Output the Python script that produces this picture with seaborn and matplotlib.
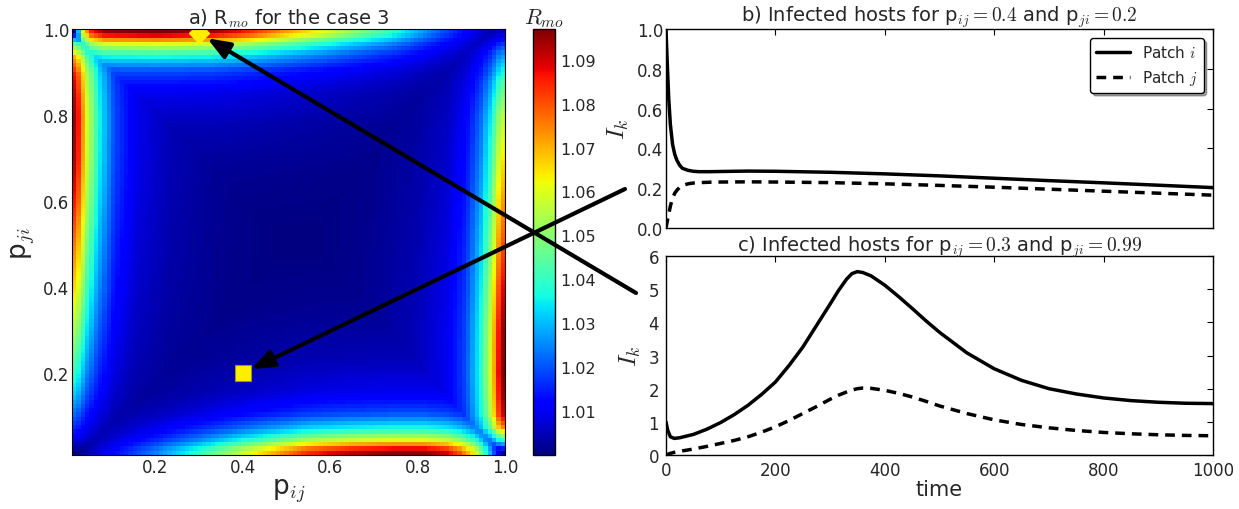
import numpy as np
import pandas as pd
import matplotlib
matplotlib.use('Agg')
import matplotlib.pyplot as plt
import seaborn as sns

# --- panel a: R_mo values read along the four edges of the map ---
# left edge (p_ij ~ 0.01), value vs p_ji
left_pji = [0.01, 0.05, 0.1, 0.15, 0.2, 0.3, 0.4, 0.5, 0.6, 0.7, 0.8, 0.85, 0.9, 0.94, 0.97, 0.99, 1.0]
left_peak = [1.0, 1.012, 1.022, 1.032, 1.04, 1.054, 1.066, 1.076, 1.086, 1.093, 1.095, 1.092, 1.086, 1.07, 1.045, 1.015, 1.0]
# right edge (p_ij ~ 1.0), value vs p_ji
right_pji = [0.01, 0.02, 0.04, 0.07, 0.1, 0.15, 0.2, 0.3, 0.4, 0.5, 0.6, 0.7, 0.8, 0.88, 0.95, 1.0]
right_peak = [1.0, 1.015, 1.04, 1.075, 1.09, 1.095, 1.097, 1.095, 1.088, 1.08, 1.072, 1.064, 1.056, 1.043, 1.025, 1.005]
# top edge (p_ji ~ 1.0), value vs p_ij
top_pij = [0.01, 0.02, 0.03, 0.05, 0.08, 0.2, 0.33, 0.41, 0.5, 0.59, 0.66, 0.74, 0.8, 0.86, 0.93, 1.0]
top_peak = [1.0, 1.03, 1.06, 1.085, 1.095, 1.097, 1.094, 1.085, 1.072, 1.06, 1.05, 1.04, 1.03, 1.02, 1.01, 1.0]
# bottom edge (p_ji ~ 0.01), value vs p_ij
bot_pij = [0.01, 0.1, 0.2, 0.3, 0.4, 0.47, 0.55, 0.65, 0.75, 0.82, 0.87, 0.9, 0.93, 0.95, 0.97, 0.99, 1.0]
bot_peak = [1.0, 1.012, 1.025, 1.04, 1.058, 1.07, 1.084, 1.092, 1.096, 1.096, 1.09, 1.08, 1.065, 1.05, 1.03, 1.01, 1.0]
# fall-off away from an edge (fraction of edge excess vs distance)
decay_d = [0, 0.01, 0.025, 0.05, 0.085, 0.13, 0.2, 0.3, 0.45]
decay_f = [1, 0.9, 0.65, 0.4, 0.2, 0.1, 0.05, 0.02, 0]
edge_width = {'left': 1.1, 'right': 1.0, 'top': 1.1, 'bottom': 1.1}

marker_diamond = (0.3, 0.99)
marker_square = (0.4, 0.2)

# --- panel b: p_ij = 0.4, p_ji = 0.2 ---
t_b = [0, 2, 5, 8, 12, 16, 20, 25, 30, 40, 50, 60, 80, 100, 150, 200, 300, 400, 500, 600, 700, 800, 900, 1000]
Ii_b = [1.0, 0.85, 0.65, 0.52, 0.42, 0.37, 0.34, 0.315, 0.30, 0.29, 0.285, 0.283, 0.283, 0.284, 0.286, 0.285,
        0.28, 0.272, 0.262, 0.25, 0.238, 0.227, 0.215, 0.203]
Ij_b = [0.0, 0.03, 0.07, 0.11, 0.15, 0.175, 0.19, 0.205, 0.213, 0.222, 0.226, 0.228, 0.23, 0.231, 0.232, 0.231,
        0.228, 0.222, 0.214, 0.205, 0.195, 0.185, 0.175, 0.165]

# --- panel c: p_ij = 0.3, p_ji = 0.99 ---
t_c = [0, 3, 8, 15, 25, 50, 75, 100, 125, 150, 175, 200, 225, 250, 275, 300, 315, 330, 340, 350, 360, 375,
       400, 425, 450, 475, 500, 550, 600, 650, 700, 750, 800, 850, 900, 950, 1000]
Ii_c = [1.0, 0.75, 0.55, 0.5, 0.52, 0.62, 0.78, 0.98, 1.22, 1.5, 1.83, 2.2, 2.7, 3.25, 3.9, 4.55, 4.95, 5.3,
        5.47, 5.53, 5.5, 5.4, 5.12, 4.78, 4.42, 4.05, 3.7, 3.08, 2.6, 2.25, 2.0, 1.84, 1.72, 1.64, 1.59, 1.56, 1.55]
Ij_c = [0.0, 0.02, 0.05, 0.08, 0.11, 0.18, 0.26, 0.35, 0.44, 0.55, 0.69, 0.85, 1.04, 1.25, 1.46, 1.68, 1.8, 1.9,
        1.96, 2.0, 2.02, 2.01, 1.95, 1.86, 1.75, 1.62, 1.48, 1.25, 1.06, 0.92, 0.82, 0.74, 0.68, 0.64, 0.61, 0.59, 0.58]

sns.set_style('white')
plt.rcParams['font.family'] = ['DejaVu Sans']
plt.rcParams['mathtext.fontset'] = 'cm'
plt.rcParams['lines.dashed_pattern'] = [2.8, 2.0]

# build the map on a 100 x 100 grid (p = 0.01 .. 1.00)
p = np.round(np.arange(1, 101) * 0.01, 2)
PIJ, PJI = np.meshgrid(p, p)


def ridge(along, pos, peak, dist, width):
    excess = np.interp(along, pos, peak) - 1.0
    return excess * np.interp(dist / width, decay_d, decay_f)


R = 1.0 + np.maximum.reduce([
    ridge(PJI, left_pji, left_peak, PIJ - 0.01, edge_width['left']),
    ridge(PJI, right_pji, right_peak, 1.0 - PIJ, edge_width['right']),
    ridge(PIJ, top_pij, top_peak, 1.0 - PJI, edge_width['top']),
    ridge(PIJ, bot_pij, bot_peak, PJI - 0.01, edge_width['bottom']),
])
df_map = pd.DataFrame(R[::-1], index=p[::-1], columns=p)


def xpos(v):
    return (np.asarray(v) - 0.01) / 0.99 * 100


def ypos(v):
    return (1.0 - np.asarray(v)) / 0.99 * 100


W, H = 1239, 510
top, bottom = 30, 456
fig = plt.figure(figsize=(W / 100, H / 100), dpi=100)
ax_a = fig.add_axes([72 / W, 1 - bottom / H, 433 / W, (bottom - top) / H])
cax = fig.add_axes([533 / W, 1 - bottom / H, 22 / W, (bottom - top) / H])
ax_b = fig.add_axes([666 / W, 1 - 229 / H, 547 / W, (229 - top) / H])
ax_c = fig.add_axes([666 / W, 1 - bottom / H, 547 / W, (bottom - 257) / H])

sns.heatmap(df_map, ax=ax_a, cbar_ax=cax, cmap='jet', vmin=1.0, vmax=1.097,
            xticklabels=False, yticklabels=False, rasterized=True)
ticks = [0.2, 0.4, 0.6, 0.8, 1.0]
ax_a.set_xticks(xpos(ticks))
ax_a.set_xticklabels([f'{t:.1f}' for t in ticks])
ax_a.set_yticks(ypos(ticks))
ax_a.set_yticklabels([f'{t:.1f}' for t in ticks])
ax_a.set_xlabel(r'p$_{ij}$', fontsize=19, labelpad=0)
ax_a.set_ylabel(r'p$_{ji}$', fontsize=19, labelpad=4)
ax_a.set_title(r'a) R$_{mo}$ for the case 3', fontsize=14, pad=4)
for s in ax_a.spines.values():
    s.set_visible(True)
    s.set_color('k')

ax_a.plot(xpos(marker_diamond[0]), ypos(marker_diamond[1]), marker='D', ms=10,
          mfc='#ffee00', mec='#ffee00', clip_on=True)
ax_a.plot(xpos(marker_square[0]), ypos(marker_square[1]), marker='s', ms=11,
          mfc='#ffee00', mec='#999900', mew=0.8)

cb = ax_a.collections[0].colorbar
cb.set_ticks([1.01, 1.02, 1.03, 1.04, 1.05, 1.06, 1.07, 1.08, 1.09])
cb.ax.tick_params(labelsize=11.5, direction='in', length=4, color='k')
cb.outline.set_edgecolor('k')
cb.outline.set_linewidth(1)
cax.set_title(r'$R_{mo}$', fontsize=16, pad=4)

# arrows from right panels to the selected points
arrow = dict(arrowstyle='-|>,head_length=0.9,head_width=0.35', lw=3, color='k',
             mutation_scale=15, shrinkA=0, shrinkB=7)
ax_a.annotate('', xy=(xpos(marker_square[0]), ypos(marker_square[1])), xycoords='data',
              xytext=(625, H - 190), textcoords='figure pixels', arrowprops=arrow)
ax_a.annotate('', xy=(xpos(marker_diamond[0]), ypos(marker_diamond[1])), xycoords='data',
              xytext=(636, H - 294), textcoords='figure pixels', arrowprops=arrow)
ax_a.set_zorder(5)

# panel b
sns.lineplot(x=t_b, y=Ii_b, ax=ax_b, color='k', lw=2.5, label=r'Patch $i$')
sns.lineplot(x=t_b, y=Ij_b, ax=ax_b, color='k', lw=2.5, linestyle='--', label=r'Patch $j$')
ax_b.set_xlim(0, 1000)
ax_b.set_ylim(0, 1.0)
ax_b.set_yticks([0.0, 0.2, 0.4, 0.6, 0.8, 1.0])
ax_b.set_xticks([0, 200, 400, 600, 800, 1000])
ax_b.set_xticklabels([])
ax_b.set_ylabel(r'$I_k$', fontsize=18)
ax_b.set_title(r'b) Infected hosts for p$_{ij}=0.4$ and p$_{ji}=0.2$', fontsize=14, pad=4)
leg = ax_b.legend(loc='upper right', fancybox=True, shadow=True, framealpha=1,
                  fontsize=11, handlelength=2.2, borderaxespad=0.6)
leg.get_frame().set_edgecolor('k')

# panel c
sns.lineplot(x=t_c, y=Ii_c, ax=ax_c, color='k', lw=2.5)
sns.lineplot(x=t_c, y=Ij_c, ax=ax_c, color='k', lw=2.5, linestyle='--')
ax_c.set_xlim(0, 1000)
ax_c.set_ylim(0, 6)
ax_c.set_yticks([0, 1, 2, 3, 4, 5, 6])
ax_c.set_xticks([0, 200, 400, 600, 800, 1000])
ax_c.set_xlabel('time', fontsize=15, labelpad=0)
ax_c.set_ylabel(r'$I_k$', fontsize=18)
ax_c.set_title(r'c) Infected hosts for p$_{ij}=0.3$ and p$_{ji}=0.99$', fontsize=14, pad=4)

for ax in (ax_a, ax_b, ax_c):
    ax.tick_params(direction='in', top=True, right=True, length=4, color='k', labelsize=12, pad=2)
ax_c.tick_params(axis='y', pad=5)
ax_c.tick_params(axis='x', pad=4)
for ax in (ax_b, ax_c):
    for s in ax.spines.values():
        s.set_color('k')
        s.set_linewidth(1)

fig.savefig('out.png', dpi=100)
